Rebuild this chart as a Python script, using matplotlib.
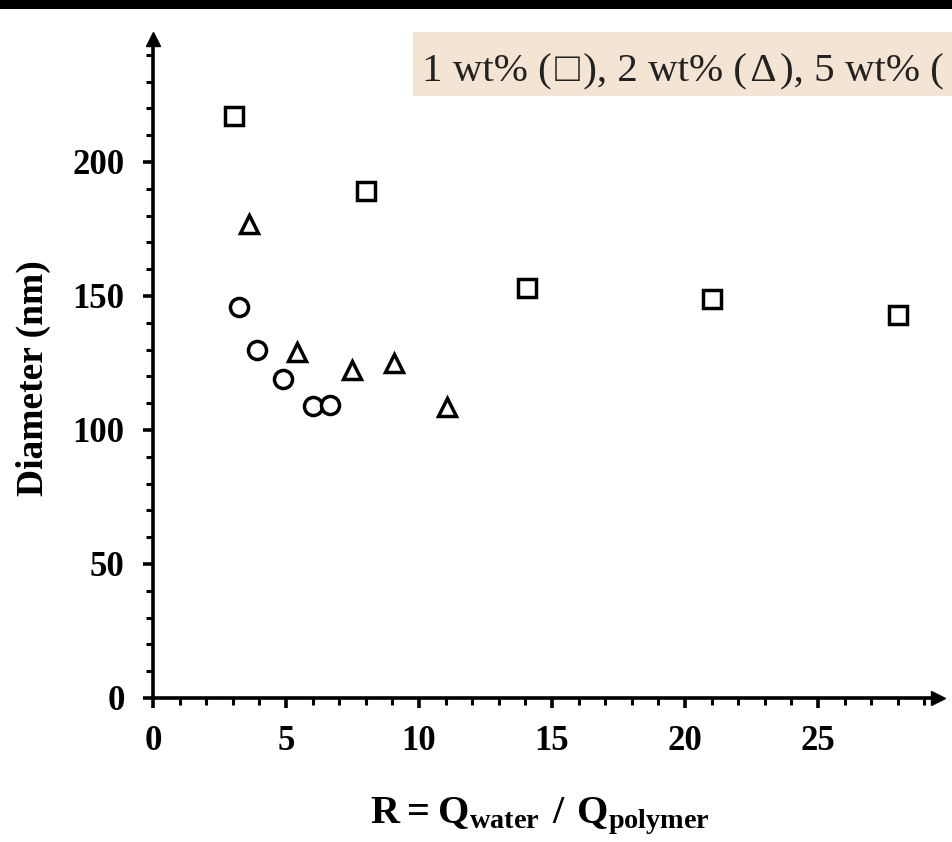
import matplotlib
matplotlib.use("Agg")
import matplotlib.pyplot as plt
from matplotlib.patches import Rectangle

plt.rcParams['mathtext.fontset'] = 'custom'
plt.rcParams['mathtext.bf'] = 'Liberation Serif:bold'
plt.rcParams['mathtext.rm'] = 'Liberation Serif'

# Data
sq_x = [3.05, 8.0, 14.05, 21.0, 28.0]
sq_y = [217, 189, 153, 149, 143]
tri_x = [3.6, 5.4, 7.5, 9.05, 11.05]
tri_y = [177, 129, 122.5, 125, 108.5]
cir_x = [3.25, 3.9, 4.9, 6.0, 6.65]
cir_y = [146, 130, 119, 109, 109.5]

x_ticks = [0, 5, 10, 15, 20, 25]
y_ticks = [0, 50, 100, 150, 200]
hs = "\u200a"
banner_text = f"1 wt% ({hs}\u25a1{hs}), 2 wt% ({hs}\u0394{hs}), 5 wt% ("

W, H = 953, 842
fig = plt.figure(figsize=(W / 100, H / 100), dpi=100)

# axes placement in pixels
x0_px, y0_px = 153, 698
px_per_x = 26.6
px_per_y = 2.68
xmax, ymax = 29.5, 246
ax = fig.add_axes([x0_px / W, (H - y0_px) / H, xmax * px_per_x / W, ymax * px_per_y / H])
ax.set_xlim(0, xmax)
ax.set_ylim(0, ymax)

mk = dict(linestyle='none', markerfacecolor='white', markeredgecolor='black',
          markeredgewidth=2.5, clip_on=False)
ax.plot(sq_x, sq_y, marker='s', markersize=12.5, **mk)
ax.plot(tri_x, tri_y, marker='^', markersize=13, **mk)
ax.plot(cir_x, cir_y, marker='o', markersize=13, **mk)

for s in ['top', 'right']:
    ax.spines[s].set_visible(False)
for s in ['left', 'bottom']:
    ax.spines[s].set_linewidth(2.6)

# arrows at axis ends
ax.plot([1], [0], marker='>', markersize=10, color='black', transform=ax.transAxes, clip_on=False)
ax.plot([0], [1], marker='^', markersize=10, color='black', transform=ax.transAxes, clip_on=False)

ax.set_xticks(x_ticks)
ax.set_yticks(y_ticks)
ax.set_xticks([v for v in range(1, 30) if v % 5], minor=True)
ax.set_yticks([v for v in range(10, 250, 10) if v % 50], minor=True)
ax.tick_params(which='major', direction='out', length=7.5, width=2.6)
ax.tick_params(which='minor', direction='out', length=5, width=2.2)
ax.tick_params(axis='x', which='major', pad=12)
ax.tick_params(axis='y', which='major', pad=13)
for lab in ax.get_xticklabels() + ax.get_yticklabels():
    lab.set_fontfamily('Liberation Serif')
    lab.set_fontweight('bold')
    lab.set_fontsize(25)

fig.text(540 / W, 1 - 823 / H, r'$\mathbf{R = Q_{water}\ /\ Q_{polymer}}$',
         ha='center', va='baseline', fontsize=29)
fig.text(33 / W, 1 - 378 / H, 'Diameter (nm)', rotation=90, ha='center', va='center',
         fontsize=27, fontfamily='Liberation Serif', fontweight='bold')

# top black bar
fig.patches.append(Rectangle((0, 1 - 9 / H), 1, 9 / H, transform=fig.transFigure,
                             facecolor='black', edgecolor='none'))
# banner
fig.patches.append(Rectangle((413 / W, 1 - 96 / H), (W - 413) / W, 64 / H,
                             transform=fig.transFigure, facecolor='#f4e4d3', edgecolor='none'))
fig.text(422 / W, 1 - 81 / H, banner_text, ha='left', va='baseline', fontsize=29.5,
         color='#222222', family=['Liberation Serif', 'DejaVu Sans'])

fig.savefig('out.png', dpi=100)
